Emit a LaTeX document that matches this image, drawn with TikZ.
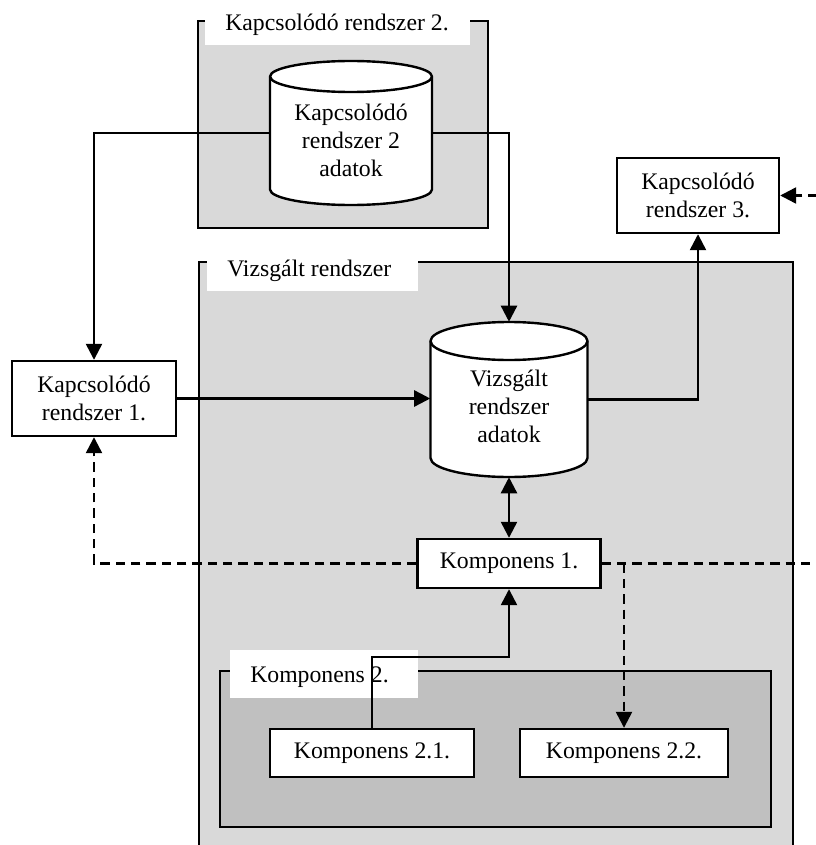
\documentclass[tikz,border=0pt]{standalone}
\usepackage{fontspec}
\setmainfont{Liberation Serif}
\usetikzlibrary{arrows.meta}

\definecolor{paneA}{RGB}{217,217,217}
\definecolor{paneB}{RGB}{192,192,192}

% Database drum: #1 centre x, #2 top, #3 bottom, #4 x radius, #5 y radius
\newcommand{\dbdrum}[5]{%
  \filldraw[drum, fill=white] ({#1-#4},{#2+#5}) -- ({#1-#4},{#3-#5})
    .. controls ({#1-#4},{#3-#5+0.5523*#5}) and ({#1-0.5523*#4},{#3}) .. ({#1},{#3})
    .. controls ({#1+0.5523*#4},{#3}) and ({#1+#4},{#3-#5+0.5523*#5}) .. ({#1+#4},{#3-#5})
    -- ({#1+#4},{#2+#5})
    .. controls ({#1+#4},{#2+#5-0.5523*#5}) and ({#1+0.5523*#4},{#2}) .. ({#1},{#2})
    .. controls ({#1-0.5523*#4},{#2}) and ({#1-#4},{#2+#5-0.5523*#5}) .. cycle;
  \draw[drum] ({#1-#4},{#2+#5})
    .. controls ({#1-#4},{#2+#5+0.5523*#5}) and ({#1-0.5523*#4},{#2+2*#5}) .. ({#1},{#2+2*#5})
    .. controls ({#1+0.5523*#4},{#2+2*#5}) and ({#1+#4},{#2+#5+0.5523*#5}) .. ({#1+#4},{#2+#5});
}

\begin{document}
\begin{tikzpicture}[x=0.75pt,y=-0.75pt,
  txt/.style={font=\fontsize{17.8}{21}\selectfont, align=center, inner sep=0pt},
  pane/.style={draw=black, line width=1.8pt, fill=#1},
  tagfill/.style={fill=white},
  drum/.style={draw=black, line width=1.8pt},
  box/.style={draw=black, fill=white, line width=1.8pt, inner sep=0pt,
    align=center, font=\fontsize{17.8}{21}\selectfont},
  hold/.style={inner sep=0pt, draw=none},
  tip/.style={-{Triangle[length=12pt,width=12pt]}},
  both/.style={{Triangle[length=12pt,width=12pt]}-{Triangle[length=12pt,width=12pt]}},
  conn/.style={line width=1.8pt},
  dashline/.style={line width=1.8pt, dash pattern=on 7pt off 4.5pt}
]
\useasboundingbox (0,0) rectangle (816,845);
\clip (0,0) rectangle (816,845);

% --- Kapcsolódó rendszer 2. frame
\filldraw[pane=paneA] (198,21) rectangle (488,228);
\fill[tagfill] (205,-5) rectangle (470,45);
\node[txt, anchor=base west] (tagsys2) at (225,30.5) {Kapcsolódó rendszer 2.};

% --- Vizsgált rendszer frame
\filldraw[pane=paneA] (199,262) rectangle (793,870);
\fill[tagfill] (207,243) rectangle (418,291);
\node[txt, anchor=base west] (tagvizs) at (227,276) {Vizsgált rendszer};

% --- Komponens 2. frame
\filldraw[pane=paneB] (220,671) rectangle (771,827);
\fill[tagfill] (230,650) rectangle (418,698);
\node[txt, anchor=base west] (tagk2) at (250,682) {Komponens 2.};

% --- databases
\dbdrum{351}{61}{205}{81}{15.5}
\node[hold, minimum width=121.5pt, minimum height=108pt] (cyl2box) at (351,133) {};
\node[txt] (cyl2text) at (351,140) {Kapcsolódó\\rendszer 2\\adatok};

\dbdrum{509}{322}{477}{78.5}{19}
\node[hold, minimum width=117.75pt, minimum height=116.25pt] (vdbbox) at (509,399.5) {};
\node[txt] (vdbtext) at (509,406.5) {Vizsgált\\rendszer\\adatok};

% --- boxes
\node[box, minimum width=123pt, minimum height=56.25pt] (sys1) at (94,398.5) {Kapcsolódó\\rendszer 1.};
\node[box, minimum width=121.5pt, minimum height=56.25pt] (sys3) at (698,195.5) {Kapcsolódó\\rendszer 3.};
\node[box, minimum width=137.25pt, minimum height=36.75pt] (comp1) at (509,563.5) {Komponens 1.};
\node[box, minimum width=153pt, minimum height=36pt] (k21) at (372,753) {Komponens 2.1.};
\node[box, minimum width=156pt, minimum height=36pt] (k22) at (624,753) {Komponens 2.2.};

% --- solid connectors
\draw[conn, tip] (cyl2box.west) -| (sys1.north);
\draw[conn, tip] (cyl2box.east) -| (vdbbox.north);
\draw[conn, tip] (sys1.east) -- (sys1.east -| vdbbox.west);
\draw[conn, tip] (vdbbox.east) -| (sys3.south);
\draw[conn, both] (vdbbox.south) -- (comp1.north);
\draw[conn, tip] (k21.north) -- ++(0,-71) -| (comp1.south);

% --- dashed connectors
\draw[dashline, tip] (comp1.west) -| (sys1.south);
\draw[dashline, tip] (comp1.east) -- (840,563.5) |- (sys3.east);
\draw[dashline, tip] (k22.north |- comp1.east) -- (k22.north);
\end{tikzpicture}
\end{document}
